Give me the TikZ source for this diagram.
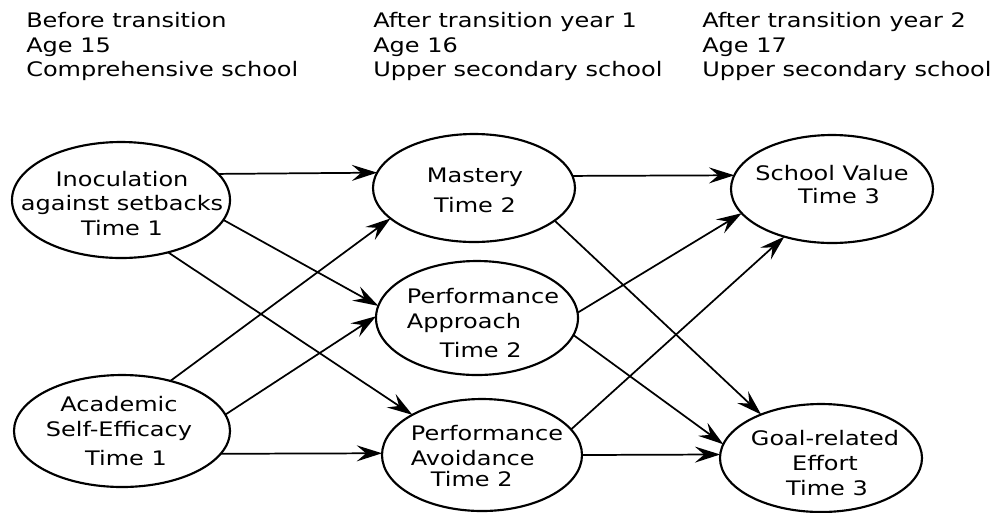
\documentclass[tikz,border=0pt]{standalone}
\usepackage{fontspec}
\setmainfont{DejaVu Sans}[FakeStretch=1.2]
\usetikzlibrary{shapes.geometric,arrows.meta}
\begin{document}
\begin{tikzpicture}[x=0.75pt,y=-0.75pt,
  every node/.style={font=\fontsize{15pt}{18.5pt}\selectfont, inner sep=0pt},
  ell/.style={draw, ellipse, line width=1.6pt, outer sep=0pt, inner sep=0pt},
  hdr/.style={anchor=north west, align=left},
  lbl/.style={align=center},
  lbll/.style={align=left},
  conn/.style={-{Stealth[length=19pt,width=12pt,inset=7pt]}, line width=1.3pt}
]
\useasboundingbox (0,0) rectangle (992,512);
\fill[white] (0,0) rectangle (992,512);

% headers
\node[hdr] (h1) at (26,12) {Before transition\\Age 15\\Comprehensive school};
\node[hdr] (h2) at (373,12) {After transition year 1\\Age 16\\Upper secondary school};
\node[hdr] (h3) at (702,12) {After transition year 2\\Age 17\\Upper secondary school};

% ellipses
\node[ell, minimum width=163.5pt, minimum height=87pt] (I) at (121,200) {};
\node[ell, minimum width=162pt, minimum height=84pt] (A) at (122,431) {};
\node[ell, minimum width=151.5pt, minimum height=81pt] (M) at (474,188) {};
\node[ell, minimum width=151.5pt, minimum height=85.5pt] (P) at (477,318) {};
\node[ell, minimum width=150pt, minimum height=84pt] (V) at (482,455) {};
\node[ell, minimum width=151.5pt, minimum height=81pt] (S) at (832,189) {};
\node[ell, minimum width=151.5pt, minimum height=81pt] (G) at (821,458) {};

% labels
\node[lbl] (It) at (122,203.5) {Inoculation\\against setbacks\\Time 1};
\node[lbl] (At) at (119,431) {Academic\\Self-Efficacy\\[3pt]\hspace*{10.5pt}Time 1};
\node[lbl] (Mt) at (475,190) {Mastery\\[4pt]Time 2};
\node[lbll] (Pt) at (483,323) {Performance\\Approach\\[3pt]\hspace*{24.75pt}Time 2};
\node[lbll] (Vt) at (487,456) {Performance\\Avoidance\\[-3pt]\hspace*{15pt}Time 2};
\node[lbl] (St) at (832,184.5) {School Value\\[-1pt]\hspace*{10.5pt}Time 3};
\node[lbl] (Gt) at (825,463) {Goal-related\\Effort\hspace*{12pt}\\\hspace*{3pt}Time 3};

% connectors
\draw[conn] (I.15) -- (M.171);
\draw[conn] (I.-11) -- (P.173);
\draw[conn] (I.-48) -- (V.150);
\draw[conn] (A.46) -- (M.200);
\draw[conn] (A.9) -- (P.179);
\draw[conn] (A.-13) -- (V.179);
\draw[conn] (M.7) -- (S.172);
\draw[conn] (M.-22) -- (G.144);
\draw[conn] (P.3) -- (S.195);
\draw[conn] (P.-10) -- (G.172);
\draw[conn] (V.16) -- (S.225);
\draw[conn] (V.0) -- (G.178);
\end{tikzpicture}
\end{document}
